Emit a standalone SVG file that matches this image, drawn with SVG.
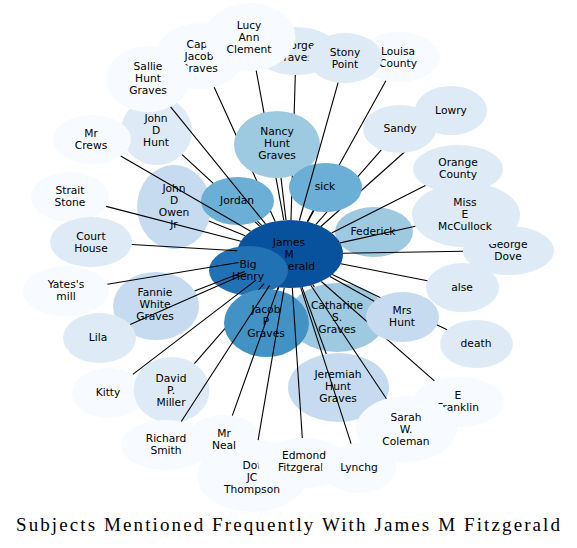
<svg xmlns="http://www.w3.org/2000/svg" width="577" height="548" viewBox="0 0 577 548">
<style>
.n text{font-family:"DejaVu Sans",sans-serif;font-size:10.7px;fill:#000;text-anchor:middle;dominant-baseline:central}
.e line{stroke:#000;stroke-width:1.1}
.c0{fill:#f7fbff}.c1{fill:#deebf7}.c2{fill:#c6dbef}.c3{fill:#9ecae1}.c4{fill:#6baed6}.c5{fill:#4292c6}.c6{fill:#2171b5}.c7{fill:#08519c}
.title{font-family:"Liberation Serif","Times New Roman",serif;font-size:19px;fill:#000}
</style>
<rect width="577" height="548" fill="#fff"/>
<g class="n">
<g id="john_d_hunt"><ellipse class="c1" cx="156.5" cy="131" rx="35.5" ry="34"/><text x="156" y="118">John</text><text x="156" y="130">D</text><text x="156" y="142">Hunt</text></g>
<g id="capt_jacob_graves"><ellipse class="c0" cx="200" cy="56" rx="44" ry="33"/><text x="199" y="44">Capt</text><text x="199" y="56">Jacob</text><text x="199" y="68">Graves</text></g>
<g id="sallie_hunt_graves"><ellipse class="c0" cx="148" cy="79" rx="42" ry="33"/><text x="148" y="66">Sallie</text><text x="148" y="78">Hunt</text><text x="148" y="90">Graves</text></g>
<g id="george_graves"><ellipse class="c1" cx="296" cy="51" rx="42" ry="24"/><text x="295" y="45">George</text><text x="294" y="57">Graves</text></g>
<g id="lucy_ann_clement"><ellipse class="c0" cx="250" cy="37" rx="45.5" ry="34"/><text x="249" y="25">Lucy</text><text x="249" y="37">Ann</text><text x="249" y="49">Clement</text></g>
<g id="louisa_county"><ellipse class="c0" cx="399" cy="57" rx="41" ry="25"/><text x="398" y="51">Louisa</text><text x="398" y="63">County</text></g>
<g id="stony_point"><ellipse class="c1" cx="345" cy="58" rx="37" ry="25"/><text x="345" y="52">Stony</text><text x="345" y="64">Point</text></g>
<g id="lowry"><ellipse class="c1" cx="451" cy="110.5" rx="36" ry="24.5"/><text x="451" y="110">Lowry</text></g>
<g id="orange_county"><ellipse class="c1" cx="458" cy="169" rx="45" ry="24"/><text x="458" y="162">Orange</text><text x="458" y="174">County</text></g>
<g id="george_dove"><ellipse class="c1" cx="508.5" cy="250.5" rx="45.5" ry="24.5"/><text x="508" y="244">George</text><text x="508" y="256">Dove</text></g>
<g id="alse"><ellipse class="c1" cx="462.5" cy="287.5" rx="36.5" ry="24.5"/><text x="462" y="287">alse</text></g>
<g id="miss_e_mccullock"><ellipse class="c1" cx="466" cy="215" rx="54" ry="32.5"/><text x="465" y="202">Miss</text><text x="465" y="214">E</text><text x="465" y="226">McCullock</text></g>
<g id="federick"><ellipse class="c3" cx="374" cy="232" rx="39" ry="25"/><text x="373" y="231">Federick</text></g>
<g id="mr_crews"><ellipse class="c0" cx="92" cy="139.5" rx="39" ry="24.5"/><text x="91" y="133">Mr</text><text x="91" y="145">Crews</text></g>
<g id="strait_stone"><ellipse class="c0" cx="70" cy="197" rx="39" ry="25"/><text x="70" y="190">Strait</text><text x="70" y="202">Stone</text></g>
<g id="court_house"><ellipse class="c1" cx="91" cy="242" rx="41" ry="25"/><text x="91" y="236">Court</text><text x="91" y="248">House</text></g>
<g id="john_d_owen_jr"><ellipse class="c2" cx="174" cy="207" rx="37" ry="42"/><text x="174" y="188">John</text><text x="174" y="200">D</text><text x="174" y="212">Owen</text><text x="174" y="224">Jr</text></g>
<g id="yates_mill"><ellipse class="c0" cx="66" cy="291" rx="43" ry="25"/><text x="66" y="284">Yates's</text><text x="66" y="296">mill</text></g>
<g id="fannie_white_graves"><ellipse class="c2" cx="156" cy="306" rx="43" ry="34"/><text x="155" y="292">Fannie</text><text x="155" y="304">White</text><text x="155" y="316">Graves</text></g>
<g id="lila"><ellipse class="c1" cx="99.5" cy="338" rx="36.5" ry="25"/><text x="98" y="337">Lila</text></g>
<g id="kitty"><ellipse class="c0" cx="108.5" cy="393" rx="36.5" ry="25"/><text x="108" y="392">Kitty</text></g>
<g id="david_p_miller"><ellipse class="c1" cx="171.5" cy="390" rx="38" ry="33"/><text x="171" y="378">David</text><text x="171" y="390">P.</text><text x="171" y="402">Miller</text></g>
<g id="richard_smith"><ellipse class="c0" cx="166" cy="445" rx="45" ry="25"/><text x="166" y="438">Richard</text><text x="166" y="450">Smith</text></g>
<g id="dot_jc_thompson"><ellipse class="c0" cx="252" cy="476" rx="55" ry="36"/><text x="252" y="465">Dot</text><text x="252" y="477">JC</text><text x="252" y="489">Thompson</text></g>
<g id="mr_neal"><ellipse class="c0" cx="224" cy="439" rx="37" ry="24"/><text x="224" y="433">Mr</text><text x="224" y="445">Neal</text></g>
<g id="edmond_fitzgerald"><ellipse class="c0" cx="304" cy="463" rx="46" ry="25"/><text x="304" y="455.5">Edmond</text><text x="304" y="467.5">Fitzgerald</text></g>
<g id="lynchg"><ellipse class="c0" cx="359" cy="468" rx="37" ry="25"/><text x="359" y="467">Lynchg</text></g>
<g id="james_m_fitzgerald"><ellipse class="c7" cx="290" cy="254" rx="53" ry="34"/><text x="289" y="242">James</text><text x="289" y="254">M</text><text x="289" y="266">Fitzgerald</text></g>
<g id="big_henry"><ellipse class="c6" cx="248.5" cy="270.5" rx="39.5" ry="24.5"/><text x="248" y="264">Big</text><text x="248" y="276">Henry</text></g>
<g id="catharine_s_graves"><ellipse class="c3" cx="337" cy="317.5" rx="49" ry="34.5"/><text x="337" y="305">Catharine</text><text x="337" y="317">S.</text><text x="337" y="329">Graves</text></g>
<g id="jeremiah_hunt_graves"><ellipse class="c2" cx="338.5" cy="387.5" rx="50.5" ry="34.5"/><text x="338" y="374">Jeremiah</text><text x="338" y="386">Hunt</text><text x="338" y="398">Graves</text></g>
<g id="e_franklin"><ellipse class="c0" cx="458.5" cy="402" rx="45.5" ry="25"/><text x="458" y="395">E</text><text x="458" y="407">Franklin</text></g>
<g id="sarah_w_coleman"><ellipse class="c0" cx="406.5" cy="429" rx="50.5" ry="33"/><text x="406" y="417">Sarah</text><text x="406" y="429">W.</text><text x="406" y="441">Coleman</text></g>
<g id="death"><ellipse class="c1" cx="476.5" cy="344" rx="36.5" ry="24"/><text x="476" y="343">death</text></g>
</g>
<g class="e" id="connectors-back">
<line x1="256.2" y1="70.7" x2="283.8" y2="220.2"/>
<line x1="295.3" y1="75" x2="291" y2="220"/>
<line x1="214.2" y1="87.2" x2="275.2" y2="221.4"/>
<line x1="429.2" y1="130" x2="320.9" y2="226.5"/>
<line x1="381.3" y1="149.8" x2="316" y2="224.4"/>
<line x1="385.9" y1="80.7" x2="307.7" y2="221.8"/>
<line x1="182.1" y1="154.6" x2="259.7" y2="226.1"/>
<line x1="194.4" y1="363.7" x2="264.1" y2="283.6"/>
<line x1="434.4" y1="380.8" x2="321.3" y2="281.5"/>
<line x1="447.1" y1="329.8" x2="332.3" y2="274.4"/>
</g>
<g class="n">
<g id="nancy_hunt_graves"><ellipse class="c3" cx="277" cy="144.5" rx="43" ry="33.5"/><text x="277" y="131">Nancy</text><text x="277" y="143">Hunt</text><text x="277" y="155">Graves</text></g>
<g id="sick"><ellipse class="c4" cx="325.5" cy="187.5" rx="36.5" ry="24.5"/><text x="325" y="186">sick</text></g>
<g id="sandy"><ellipse class="c1" cx="399.5" cy="129" rx="36.5" ry="24"/><text x="400" y="128">Sandy</text></g>
<g id="jordan"><ellipse class="c4" cx="237.5" cy="201" rx="36.5" ry="24"/><text x="237" y="200">Jordan</text></g>
<g id="jacob_p_graves"><ellipse class="c5" cx="266.5" cy="323" rx="42.5" ry="34"/><text x="266" y="309">Jacob</text><text x="266" y="321">P</text><text x="266" y="333">Graves</text></g>
<g id="mrs_hunt"><ellipse class="c2" cx="402.5" cy="317" rx="36.5" ry="25"/><text x="402" y="310">Mrs</text><text x="402" y="322">Hunt</text></g>
</g>
<g class="e" id="connectors">
<line x1="170.6" y1="106.8" x2="265.5" y2="223.8"/>
<line x1="338.1" y1="82.6" x2="299.4" y2="220.5"/>
<line x1="425.4" y1="185.5" x2="331.6" y2="232.9"/>
<line x1="415.4" y1="226.2" x2="340.1" y2="242.9"/>
<line x1="463" y1="251.2" x2="343" y2="253.2"/>
<line x1="337.9" y1="241.5" x2="339" y2="241.2"/>
<line x1="427.4" y1="280.7" x2="340.8" y2="263.8"/>
<line x1="374.2" y1="301.2" x2="329.9" y2="276.4"/>
<line x1="314.4" y1="286.9" x2="312.7" y2="284.7"/>
<line x1="386.4" y1="398.7" x2="310.8" y2="285.3"/>
<line x1="326.3" y1="354" x2="302" y2="287.1"/>
<line x1="351.1" y1="443.6" x2="300.7" y2="287.3"/>
<line x1="302.3" y1="438" x2="292.3" y2="288"/>
<line x1="258.1" y1="440.2" x2="284.2" y2="287.8"/>
<line x1="232.3" y1="415.6" x2="278.2" y2="287.1"/>
<line x1="181.3" y1="421.5" x2="269.6" y2="285.4"/>
<line x1="277.7" y1="290.2" x2="278.7" y2="287.2"/>
<line x1="132.8" y1="374.4" x2="256" y2="280.1"/>
<line x1="130.2" y1="324.5" x2="246.3" y2="273.3"/>
<line x1="194.6" y1="291" x2="244.7" y2="271.6"/>
<line x1="107.4" y1="284.2" x2="238.7" y2="262.5"/>
<line x1="131.8" y1="244.5" x2="237.2" y2="250.8"/>
<line x1="106.2" y1="206.4" x2="240.9" y2="241.3"/>
<line x1="208.8" y1="221.1" x2="245.2" y2="235.8"/>
<line x1="120.7" y1="156.1" x2="250.6" y2="231.2"/>
<line x1="257.4" y1="221.1" x2="261.6" y2="225.3"/>
<line x1="281" y1="177.9" x2="286" y2="220.1"/>
<line x1="313.2" y1="210.6" x2="307.2" y2="221.8"/>
</g>
<text class="title" x="16" y="531" textLength="544" lengthAdjust="spacing">Subjects Mentioned Frequently With James M Fitzgerald</text>
</svg>
